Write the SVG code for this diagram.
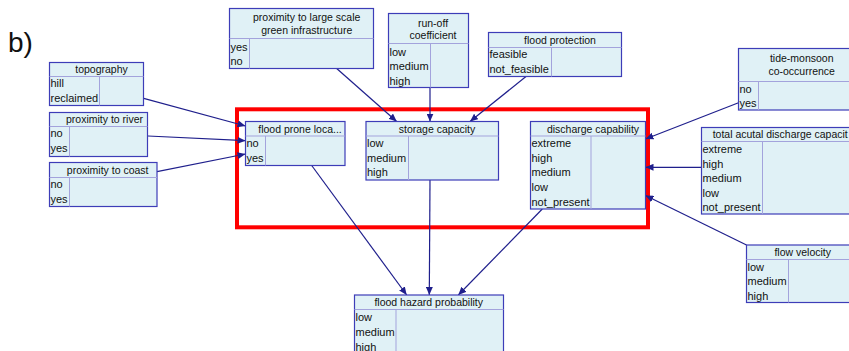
<svg xmlns="http://www.w3.org/2000/svg" width="849" height="351" viewBox="0 0 849 351">
<style>
.box{fill:#e0f1f6;stroke:#3d3db8;stroke-width:1.2}
.sep{stroke:#a3a3dc;stroke-width:1;fill:none}
.t{font-family:"Liberation Sans",Arial,sans-serif;font-size:11px;fill:#111}
.h{font-family:"Liberation Sans",Arial,sans-serif;font-size:10.5px;fill:#111}
.c{text-anchor:middle}
.e{stroke:#1f1f8c;stroke-width:1.2;fill:none;marker-end:url(#ah)}
</style>
<defs>
<marker id="ah" markerUnits="userSpaceOnUse" markerWidth="9" markerHeight="7" refX="8" refY="3.5" orient="auto">
<path d="M0,0 L8,3.5 L0,7 z" fill="#1f1f8c"/>
</marker>
</defs>
<rect width="849" height="351" fill="#ffffff"/>
<text x="8" y="52" style="font-family:'Liberation Sans',Arial,sans-serif;font-size:28px;fill:#111">b)</text>

<rect x="237" y="109.3" width="411" height="118" fill="none" stroke="#ff0000" stroke-width="4"/>

<g id="connectors">
<line class="e" x1="143.7" y1="98.3" x2="245.5" y2="126"/>
<line class="e" x1="148" y1="136" x2="245.5" y2="140.7"/>
<line class="e" x1="157" y1="171.7" x2="245.5" y2="154"/>
<line class="e" x1="336.7" y1="68.5" x2="396.7" y2="121.5"/>
<line class="e" x1="430" y1="87.5" x2="430" y2="121.5"/>
<line class="e" x1="526" y1="76.5" x2="470" y2="121.5"/>
<line class="e" x1="738.5" y1="102.7" x2="645.5" y2="139"/>
<line class="e" x1="701.5" y1="167.3" x2="645.5" y2="167.3"/>
<line class="e" x1="746.5" y1="245" x2="645.5" y2="195.5"/>
<line class="e" x1="311.7" y1="165.5" x2="406.7" y2="295"/>
<line class="e" x1="430" y1="180" x2="429.3" y2="295"/>
<line class="e" x1="542.3" y1="209" x2="458.3" y2="295"/>
</g>

<g id="topography">
<rect class="box" x="49.5" y="62.5" width="94" height="43"/>
<line class="sep" x1="49.5" y1="76.5" x2="143.5" y2="76.5"/>
<line class="sep" x1="99.5" y1="76.5" x2="99.5" y2="105.5"/>
<text class="h c" x="101.5" y="73">topography</text>
<text class="t" x="50.5" y="87">hill</text>
<text class="t" x="50.5" y="101.5">reclaimed</text>
</g>

<g id="proximity-river">
<rect class="box" x="49.5" y="112.5" width="98" height="44"/>
<line class="sep" x1="49.5" y1="126.5" x2="147.5" y2="126.5"/>
<line class="sep" x1="69.5" y1="126.5" x2="69.5" y2="156.5"/>
<text class="h c" x="104.5" y="123">proximity to river</text>
<text class="t" x="50.5" y="137">no</text>
<text class="t" x="50.5" y="151.5">yes</text>
</g>

<g id="proximity-coast">
<rect class="box" x="49.5" y="162.5" width="107.5" height="44"/>
<line class="sep" x1="49.5" y1="177.5" x2="157" y2="177.5"/>
<line class="sep" x1="69.5" y1="177.5" x2="69.5" y2="206.5"/>
<text class="h c" x="107.7" y="174">proximity to coast</text>
<text class="t" x="50.5" y="188">no</text>
<text class="t" x="50.5" y="202.5">yes</text>
</g>

<g id="green-infrastructure">
<rect class="box" x="229.5" y="8.5" width="144" height="60"/>
<line class="sep" x1="229.5" y1="38.5" x2="373.5" y2="38.5"/>
<line class="sep" x1="249.5" y1="38.5" x2="249.5" y2="68.5"/>
<text class="h c" x="306.7" y="21.3">proximity to large scale</text>
<text class="h c" x="306.7" y="34">green infrastructure</text>
<text class="t" x="230.5" y="50.5">yes</text>
<text class="t" x="230.5" y="65">no</text>
</g>

<g id="run-off">
<rect class="box" x="388.5" y="13.5" width="80" height="74"/>
<line class="sep" x1="388.5" y1="43.5" x2="468.5" y2="43.5"/>
<line class="sep" x1="430.5" y1="43.5" x2="430.5" y2="87.5"/>
<text class="h c" x="433" y="27.3">run-off</text>
<text class="h c" x="433" y="38.5">coefficient</text>
<text class="t" x="389.5" y="55.5">low</text>
<text class="t" x="389.5" y="70">medium</text>
<text class="t" x="389.5" y="84.5">high</text>
</g>

<g id="flood-protection">
<rect class="box" x="488.5" y="32.5" width="133" height="44"/>
<line class="sep" x1="488.5" y1="47.5" x2="621.5" y2="47.5"/>
<line class="sep" x1="551.5" y1="47.5" x2="551.5" y2="76.5"/>
<text class="h c" x="560" y="44">flood protection</text>
<text class="t" x="489.5" y="58">feasible</text>
<text class="t" x="489.5" y="72.5">not_feasible</text>
</g>

<g id="flood-prone">
<rect class="box" x="245.5" y="121.5" width="99.5" height="44"/>
<line class="sep" x1="245.5" y1="136" x2="345" y2="136"/>
<line class="sep" x1="265.5" y1="136" x2="265.5" y2="165.5"/>
<text class="h c" x="300" y="133">flood prone loca...</text>
<text class="t" x="246.5" y="147">no</text>
<text class="t" x="246.5" y="161.5">yes</text>
</g>

<g id="storage-capacity">
<rect class="box" x="366" y="121.5" width="132.5" height="58.5"/>
<line class="sep" x1="366" y1="136" x2="498.5" y2="136"/>
<line class="sep" x1="408.5" y1="136" x2="408.5" y2="180"/>
<text class="h c" x="437" y="133">storage capacity</text>
<text class="t" x="367" y="147">low</text>
<text class="t" x="367" y="161.7">medium</text>
<text class="t" x="367" y="176.4">high</text>
</g>

<g id="discharge-capability">
<rect class="box" x="530.5" y="121.5" width="115" height="87.5"/>
<line class="sep" x1="530.5" y1="136" x2="645.5" y2="136"/>
<line class="sep" x1="591" y1="136" x2="591" y2="209"/>
<text class="h c" x="593" y="133">discharge capability</text>
<text class="t" x="531.5" y="147">extreme</text>
<text class="t" x="531.5" y="161.7">high</text>
<text class="t" x="531.5" y="176.4">medium</text>
<text class="t" x="531.5" y="191.1">low</text>
<text class="t" x="531.5" y="205.8">not_present</text>
</g>

<g id="tide-monsoon">
<rect class="box" x="738.5" y="48.5" width="130" height="61.5"/>
<line class="sep" x1="738.5" y1="81.5" x2="868.5" y2="81.5"/>
<line class="sep" x1="758.5" y1="81.5" x2="758.5" y2="110"/>
<text class="h c" x="801.7" y="62.3">tide-monsoon</text>
<text class="h c" x="801.7" y="74.7">co-occurrence</text>
<text class="t" x="739.5" y="92.5">no</text>
<text class="t" x="739.5" y="107">yes</text>
</g>

<g id="total-discharge">
<rect class="box" x="701.5" y="127.5" width="200" height="86.5"/>
<line class="sep" x1="701.5" y1="141.5" x2="901.5" y2="141.5"/>
<line class="sep" x1="762.5" y1="141.5" x2="762.5" y2="214"/>
<text class="h" x="712.7" y="138" textLength="135" lengthAdjust="spacingAndGlyphs">total acutal discharge capacit</text>
<text class="t" x="702.5" y="152.5">extreme</text>
<text class="t" x="702.5" y="167.5">high</text>
<text class="t" x="702.5" y="181.5">medium</text>
<text class="t" x="702.5" y="196.5">low</text>
<text class="t" x="702.5" y="211">not_present</text>
</g>

<g id="flow-velocity">
<rect class="box" x="746.5" y="245" width="104" height="57.5"/>
<line class="sep" x1="746.5" y1="259.5" x2="850.5" y2="259.5"/>
<line class="sep" x1="788.5" y1="259.5" x2="788.5" y2="302.5"/>
<text class="h c" x="802.7" y="256">flow velocity</text>
<text class="t" x="747.5" y="270.5">low</text>
<text class="t" x="747.5" y="285">medium</text>
<text class="t" x="747.5" y="299.5">high</text>
</g>

<g id="flood-hazard">
<rect class="box" x="354.5" y="295" width="149" height="70"/>
<line class="sep" x1="354.5" y1="309.5" x2="503.5" y2="309.5"/>
<line class="sep" x1="396" y1="309.5" x2="396" y2="365"/>
<text class="h c" x="428.7" y="306">flood hazard probability</text>
<text class="t" x="355.5" y="320.5">low</text>
<text class="t" x="355.5" y="335.5">medium</text>
<text class="t" x="355.5" y="350.5">high</text>
</g>
</svg>
